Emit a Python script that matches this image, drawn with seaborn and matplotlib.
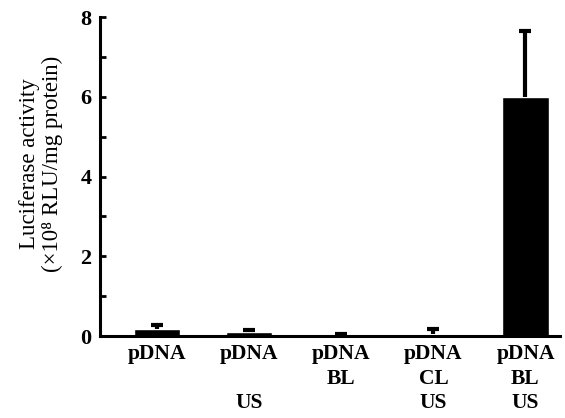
import matplotlib
matplotlib.use("Agg")
import matplotlib.pyplot as plt
import seaborn as sns
import pandas as pd
import numpy as np

categories = ["pDNA\n\n", "pDNA\n\nUS", "pDNA\nBL\n", "pDNA\nCL\nUS", "pDNA\nBL\nUS"]
values = [0.17, 0.09, 0.06, 0.05, 6.0]
errors = [0.10, 0.07, 0.0, 0.12, 1.65]
yticks = [0, 2, 4, 6, 8]

sns.set_theme(style="ticks")
plt.rcParams["font.family"] = ["Liberation Serif", "DejaVu Serif"]
plt.rcParams["text.color"] = "black"
plt.rcParams["axes.labelcolor"] = "black"
plt.rcParams["xtick.color"] = "black"
plt.rcParams["ytick.color"] = "black"

fig = plt.figure(figsize=(5.65, 4.18), dpi=100)
ax = fig.add_axes([0.177, 0.196, 0.815, 0.763])

df = pd.DataFrame({"cat": categories, "val": values})
sns.barplot(data=df, x="cat", y="val", color="black", width=0.5,
            saturation=1, errorbar=None, ax=ax)
xs = np.arange(len(categories))
vals = np.array(values)
errs = np.array(errors)
tops = vals + errs
ax.vlines(xs, vals, tops, colors="black", linewidth=3)
ax.plot(xs, tops, linestyle="none", marker="_", markersize=9,
        markeredgewidth=3, color="black")

ax.set_ylim(0, 8)
ax.set_xlim(-0.62, 4.38)
ax.set_yticks(yticks)
ax.set_yticks([1, 3, 5, 7], minor=True)
ax.set_yticklabels([str(t) for t in yticks], fontsize=16, fontweight="bold")
ax.set_xticks(xs)
ax.set_xticklabels(categories, fontsize=15.5, fontweight="bold", linespacing=1.3)
ax.tick_params(axis="y", which="both", direction="in", length=4, width=2, pad=6)
ax.tick_params(axis="x", length=0, pad=6)
ax.set_xlabel("")
ax.set_ylabel("Luciferase activity\n(×10⁸ RLU/mg protein)", fontsize=16.5,
              linespacing=1.15)
ax.yaxis.set_label_coords(-0.08, 0.54)
for s in ["top", "right"]:
    ax.spines[s].set_visible(False)
for s in ["left", "bottom"]:
    ax.spines[s].set_linewidth(2.2)
    ax.spines[s].set_color("black")

fig.savefig("out.png", dpi=100, facecolor="white")
